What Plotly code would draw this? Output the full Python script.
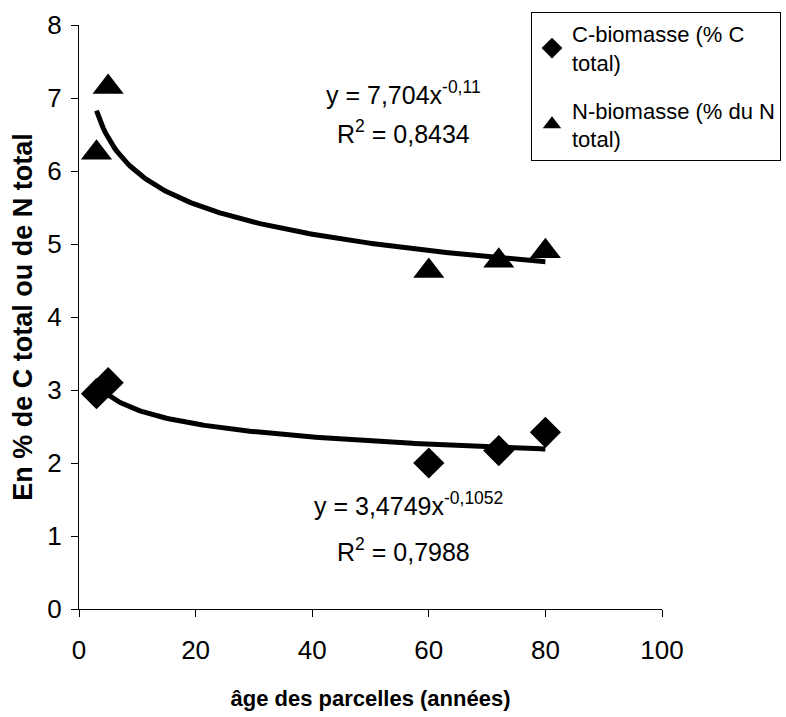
import numpy as np
import plotly.graph_objects as go

# Plot age (years) and microbial biomass share
ages = [3, 5, 60, 72, 80]
c_biomasse = [2.95, 3.1, 2.0, 2.17, 2.42]   # % of total C
n_biomasse = [6.25, 7.15, 4.63, 4.77, 4.9]  # % of total N

# Power trend lines y = a * x^b, with their R²
c_fit = (3.4749, -0.1052, 0.7988)
n_fit = (7.704, -0.11, 0.8434)

x_tick_vals = [0, 20, 40, 60, 80, 100]
y_tick_vals = [0, 1, 2, 3, 4, 5, 6, 7, 8]

xs = np.linspace(min(ages), max(ages), 200)

fig = go.Figure()

fig.add_trace(go.Scatter(
    x=ages, y=c_biomasse, mode="markers", name="C-biomasse (% C<br>total)",
    legendgroup="c",
    marker=dict(symbol="diamond", size=24, color="black"),
))
fig.add_trace(go.Scatter(
    x=ages, y=n_biomasse, mode="markers", name="N-biomasse (% du N<br>total)",
    legendgroup="n",
    marker=dict(symbol="triangle-up", size=27, color="black"),
))
for a, b, _ in (c_fit, n_fit):
    fig.add_trace(go.Scatter(
        x=xs, y=a * xs ** b, mode="lines", showlegend=False,
        line=dict(color="black", width=5), hoverinfo="skip",
    ))

font = "Liberation Sans, Arial, sans-serif"

def fmt(v):
    return str(v).replace(".", ",")

annotations = [
    dict(x=403, y=75, text=f"y = {fmt(n_fit[0])}x<sup>{fmt(n_fit[1])}</sup>"),
    dict(x=404, y=114, text=f"R<sup>2</sup> = {fmt(n_fit[2])}"),
    dict(x=408, y=522, text=f"y = {fmt(c_fit[0])}x<sup>{fmt(c_fit[1])}</sup>"),
    dict(x=404, y=568, text=f"R<sup>2</sup> = {fmt(c_fit[2])}"),
]
# convert pixel positions to paper coordinates of the plot area
L, R, T, B = 79, 662, 25, 609
for an in annotations:
    an.update(
        xref="paper", yref="paper",
        x=(an["x"] - L) / (R - L), y=(B - an["y"]) / (B - T),
        showarrow=False, font=dict(family=font, size=25, color="black"),
    )

fig.update_layout(
    width=786, height=717,
    margin=dict(l=L, r=786 - R, t=T, b=717 - B, autoexpand=False),
    paper_bgcolor="white", plot_bgcolor="white",
    font=dict(family=font, color="black"),
    annotations=annotations,
    legend=dict(
        x=(531 - L) / (R - L), y=(B - 12) / (B - T),
        xanchor="left", yanchor="top",
        bordercolor="black", borderwidth=1, bgcolor="white",
        font=dict(family=font, size=22, color="black"),
        traceorder="grouped", tracegroupgap=16,
        itemwidth=30,
    ),
    xaxis=dict(
        range=[0, 100], tickvals=x_tick_vals, showgrid=False, zeroline=False,
        showline=True, linecolor="black", linewidth=1,
        ticks="outside", ticklen=7, tickcolor="black",
        tickfont=dict(size=26), ticklabelstandoff=11,
        title=dict(text="<b>âge des parcelles (années)</b>", font=dict(size=22), standoff=26),
    ),
    yaxis=dict(
        range=[0, 8], tickvals=y_tick_vals, showgrid=False, zeroline=False,
        showline=True, linecolor="black", linewidth=1,
        ticks="outside", ticklen=7, tickcolor="black",
        tickfont=dict(size=26), ticklabelstandoff=4,
        title=dict(text="<b>En % de C total ou de N total</b>", font=dict(size=27), standoff=6),
    ),
)

fig.write_html("out.html")
